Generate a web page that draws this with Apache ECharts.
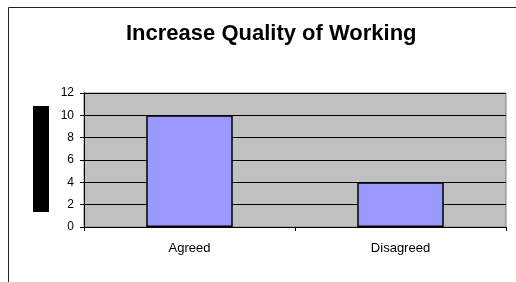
<!DOCTYPE html>
<html>
<head>
<meta charset="utf-8">
<script src="https://cdn.jsdelivr.net/npm/echarts@6/dist/echarts.min.js"></script>
<style>
  html, body { margin: 0; padding: 0; background: #fff; }
  #chart { width: 516px; height: 282px; }
</style>
</head>
<body>
<div id="chart"></div>
<script>
  var categories = ['Agreed', 'Disagreed'];
  var counts = [10, 4];
  var yTicks = [0, 2, 4, 6, 8, 10, 12];

  var chart = echarts.init(document.getElementById('chart'));
  var option = {
    animation: false,
    backgroundColor: '#fff',
    textStyle: { fontFamily: 'Liberation Sans, Arial, sans-serif' },
    title: {
      text: 'Increase Quality of Working',
      left: 121,
      top: 18,
      textStyle: { fontSize: 22, fontWeight: 'bold', color: '#000' }
    },
    graphic: [
      {
        type: 'rect', silent: true,
        shape: { x: 8.5, y: 7.5, width: 600, height: 400 },
        style: { fill: 'none', stroke: '#222', lineWidth: 1 }
      },
      {
        type: 'rect', silent: true,
        shape: { x: 33, y: 106, width: 16, height: 106 },
        style: { fill: '#000' }
      }
    ],
    grid: {
      left: 84, right: 10, top: 93, bottom: 55,
      show: true, backgroundColor: '#c0c0c0', borderColor: '#808080', borderWidth: 1
    },
    xAxis: {
      type: 'category',
      data: categories,
      axisLine: { lineStyle: { color: '#000', width: 1 } },
      axisTick: { show: true, length: 4, lineStyle: { color: '#000' } },
      axisLabel: { color: '#000', fontSize: 13, margin: 15 }
    },
    yAxis: {
      type: 'value',
      min: yTicks[0],
      max: yTicks[yTicks.length - 1],
      interval: 2,
      axisLine: { show: true, lineStyle: { color: '#000', width: 1 } },
      axisTick: { show: true, length: 4, lineStyle: { color: '#000' } },
      axisLabel: { color: '#000', fontSize: 12, margin: 10 },
      splitLine: { show: true, lineStyle: { color: '#000', width: 1 } }
    },
    series: [{
      type: 'bar',
      data: counts,
      barWidth: '41%',
      itemStyle: { color: '#9999ff', borderColor: '#000', borderWidth: 1.5 }
    }]
  };
  chart.setOption(option);
</script>
</body>
</html>
